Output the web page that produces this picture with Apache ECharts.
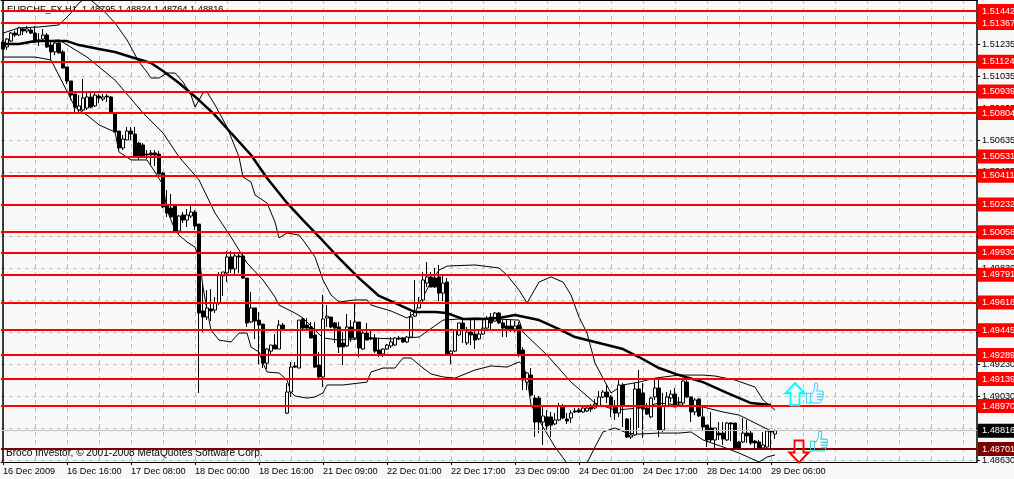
<!DOCTYPE html>
<html><head><meta charset="utf-8">
<style>html,body{margin:0;padding:0;background:#f8f8f8}#c{width:1014px;height:479px}</style>
<script src="https://cdn.jsdelivr.net/npm/echarts@6/dist/echarts.min.js"></script>
</head><body><div id="c"></div>
<script>
const titleText = "EURCHF_FX,H1  1.48795 1.48824 1.48764 1.48816";
const footerText = "Broco Investor, © 2001-2008 MetaQuotes Software Corp.";
const timeLabels = ["16 Dec 2009","16 Dec 16:00","17 Dec 08:00","18 Dec 00:00","18 Dec 16:00","21 Dec 09:00","22 Dec 01:00","22 Dec 17:00","23 Dec 09:00","24 Dec 01:00","24 Dec 17:00","28 Dec 14:00","29 Dec 06:00"];
const priceTicks = [1.51235,1.51035,1.50835,1.50635,1.50435,1.50235,1.50035,1.49830,1.49630,1.49430,1.49230,1.49030,1.48830,1.48630];
const redLevels = [1.51442,1.51367,1.51124,1.50939,1.50804,1.50531,1.50411,1.50232,1.50058,1.49930,1.49791,1.49618,1.49445,1.49289,1.49139,1.48970];
const supportLevel = 1.48701;
const bidLevel = 1.48816;
const opens = [
1.51248,1.51217,1.51254,1.51304,1.51292,1.51330,1.51317,1.51323,1.51304,1.51261,
1.51267,1.51292,1.51229,1.51186,1.51242,1.51186,1.51092,1.51004,1.50923,1.50823,
1.50823,1.50835,1.50904,1.50848,1.50910,1.50891,1.50910,1.50904,1.50798,1.50691,
1.50585,1.50635,1.50691,1.50672,1.50616,1.50604,1.50547,1.50554,1.50554,1.50547,
1.50428,1.50222,1.50209,1.50228,1.50065,1.50166,1.50134,1.50159,1.50184,1.50109,
1.49565,1.49527,1.49578,1.49571,1.49615,1.49784,1.49803,1.49903,1.49828,1.49909,
1.49909,1.49771,1.49496,1.49584,1.49508,1.49483,1.49239,1.49314,1.49352,1.49327,
1.49477,1.48926,1.49058,1.49221,1.49208,1.49515,1.49477,1.49465,1.49415,1.49227,
1.49152,1.49521,1.49527,1.49490,1.49465,1.49365,1.49346,1.49465,1.49396,1.49496,
1.49327,1.49427,1.49396,1.49396,1.49321,1.49296,1.49327,1.49346,1.49352,1.49396,
1.49396,1.49371,1.49402,1.49533,1.49584,1.49634,1.49740,1.49778,1.49771,1.49778,
1.49677,1.49746,1.49296,1.49314,1.49415,1.49490,1.49365,1.49433,1.49421,1.49390,
1.49421,1.49458,1.49527,1.49502,1.49552,1.49490,1.49471,1.49471,1.49452,1.49477,
1.49321,1.49120,1.49164,1.49020,1.49020,1.48870,1.48902,1.48902,1.48858,1.48883,
1.48970,1.48889,1.48895,1.48939,1.48945,1.48933,1.48939,1.48964,1.48958,1.48970,
1.49027,1.49058,1.49027,1.48970,1.48926,1.49102,1.48889,1.48776,1.48789,1.49077,
1.49052,1.48958,1.48902,1.49027,1.49083,1.48820,1.48970,1.49020,1.49045,1.48995,
1.48989,1.49120,1.49027,1.48933,1.49014,1.48902,1.48851,1.48833,1.48758,1.48801,
1.48801,1.48758,1.48864,1.48864,1.48745,1.48745,1.48801,1.48801,1.48751,1.48745,
1.48708,1.48714,1.48814,1.48795];
const closes = [
1.51204,1.51267,1.51304,1.51292,1.51336,1.51317,1.51330,1.51304,1.51254,1.51254,
1.51292,1.51217,1.51186,1.51242,1.51179,1.51085,1.51004,1.50916,1.50841,1.50848,
1.50898,1.50904,1.50841,1.50916,1.50898,1.50904,1.50904,1.50804,1.50685,1.50585,
1.50641,1.50691,1.50672,1.50529,1.50535,1.50529,1.50541,1.50541,1.50541,1.50422,
1.50216,1.50178,1.50153,1.50059,1.50159,1.50134,1.50166,1.50184,1.50097,1.49552,
1.49527,1.49584,1.49565,1.49615,1.49790,1.49809,1.49903,1.49828,1.49909,1.49903,
1.49771,1.49490,1.49584,1.49502,1.49477,1.49239,1.49327,1.49352,1.49327,1.49477,
1.49452,1.49058,1.49214,1.49214,1.49508,1.49458,1.49458,1.49396,1.49214,1.49152,
1.49515,1.49533,1.49465,1.49458,1.49340,1.49340,1.49465,1.49396,1.49496,1.49333,
1.49427,1.49383,1.49390,1.49314,1.49296,1.49327,1.49352,1.49371,1.49396,1.49390,
1.49371,1.49402,1.49527,1.49558,1.49615,1.49759,1.49778,1.49715,1.49715,1.49677,
1.49740,1.49296,1.49314,1.49446,1.49490,1.49446,1.49433,1.49415,1.49383,1.49421,
1.49458,1.49515,1.49490,1.49552,1.49490,1.49458,1.49446,1.49452,1.49471,1.49289,
1.49133,1.49177,1.49039,1.48870,1.48870,1.48908,1.48845,1.48851,1.48883,1.48970,
1.48895,1.48876,1.48927,1.48933,1.48933,1.48958,1.48958,1.48951,1.48983,1.49027,
1.49058,1.49027,1.48964,1.48926,1.49102,1.48970,1.48776,1.48789,1.49077,1.48958,
1.48951,1.48920,1.49020,1.49083,1.48820,1.48970,1.49027,1.49045,1.48964,1.48989,
1.49127,1.49027,1.48933,1.49008,1.48908,1.48839,1.48758,1.48758,1.48833,1.48789,
1.48764,1.48864,1.48858,1.48708,1.48708,1.48801,1.48783,1.48739,1.48739,1.48708,
1.48726,1.48814,1.48808,1.48816];
const lows = [
1.51198,1.51198,1.51248,1.51279,1.51286,1.51292,1.51304,1.51298,1.51242,1.51223,
1.51248,1.51211,1.51136,1.51167,1.51179,1.51085,1.50985,1.50885,1.50810,1.50810,
1.50816,1.50823,1.50835,1.50841,1.50866,1.50879,1.50873,1.50804,1.50685,1.50572,
1.50572,1.50635,1.50635,1.50522,1.50510,1.50522,1.50516,1.50478,1.50472,1.50422,
1.50209,1.50153,1.50153,1.50053,1.50040,1.50115,1.50090,1.50147,1.50072,1.49052,
1.49433,1.49508,1.49502,1.49552,1.49602,1.49659,1.49746,1.49803,1.49796,1.49803,
1.49765,1.49465,1.49490,1.49390,1.49233,1.49208,1.49202,1.49289,1.49327,1.49327,
1.49452,1.48920,1.49027,1.49208,1.49208,1.49452,1.49452,1.49396,1.49208,1.49145,
1.49089,1.49465,1.49458,1.49365,1.49302,1.49227,1.49340,1.49371,1.49383,1.49277,
1.49321,1.49383,1.49383,1.49302,1.49277,1.49277,1.49321,1.49333,1.49346,1.49383,
1.49365,1.49365,1.49396,1.49527,1.49584,1.49615,1.49715,1.49715,1.49709,1.49627,
1.49627,1.49289,1.49233,1.49308,1.49408,1.49365,1.49352,1.49352,1.49327,1.49383,
1.49415,1.49452,1.49452,1.49496,1.49483,1.49402,1.49402,1.49433,1.49433,1.49277,
1.49070,1.49070,1.49033,1.48776,1.48801,1.48726,1.48820,1.48776,1.48851,1.48876,
1.48889,1.48858,1.48864,1.48927,1.48927,1.48927,1.48933,1.48933,1.48951,1.48964,
1.49020,1.48989,1.48902,1.48883,1.48902,1.48839,1.48770,1.48764,1.48783,1.48833,
1.48770,1.48914,1.48895,1.49008,1.48776,1.48808,1.48964,1.48995,1.48964,1.48964,
1.48977,1.49020,1.48870,1.48914,1.48902,1.48820,1.48714,1.48745,1.48708,1.48758,
1.48726,1.48751,1.48751,1.48701,1.48701,1.48739,1.48739,1.48726,1.48695,1.48701,
1.48701,1.48708,1.48708,1.48764];
const highs = [
1.51261,1.51273,1.51311,1.51317,1.51342,1.51336,1.51348,1.51342,1.51348,1.51304,
1.51330,1.51304,1.51254,1.51261,1.51254,1.51198,1.51092,1.51004,1.50923,1.50916,
1.51017,1.50929,1.50929,1.50929,1.50923,1.50923,1.50923,1.50910,1.50804,1.50691,
1.50666,1.50716,1.50716,1.50716,1.50622,1.50616,1.50572,1.50572,1.50572,1.50566,
1.50435,1.50322,1.50297,1.50228,1.50166,1.50184,1.50203,1.50228,1.50197,1.50109,
1.49740,1.49696,1.49702,1.49652,1.49809,1.49809,1.49940,1.49940,1.49928,1.49928,
1.49928,1.49771,1.49684,1.49584,1.49558,1.49483,1.49333,1.49352,1.49421,1.49508,
1.49490,1.49114,1.49246,1.49246,1.49508,1.49521,1.49521,1.49496,1.49496,1.49308,
1.49665,1.49602,1.49527,1.49496,1.49496,1.49433,1.49546,1.49508,1.49615,1.49496,
1.49446,1.49490,1.49446,1.49421,1.49396,1.49333,1.49358,1.49402,1.49402,1.49408,
1.49402,1.49408,1.49558,1.49759,1.49652,1.49809,1.49871,1.49809,1.49834,1.49853,
1.49784,1.49771,1.49321,1.49452,1.49490,1.49508,1.49465,1.49508,1.49508,1.49446,
1.49508,1.49533,1.49552,1.49558,1.49558,1.49508,1.49508,1.49508,1.49502,1.49496,
1.49339,1.49183,1.49208,1.49039,1.49033,1.48964,1.48945,1.48933,1.48927,1.48989,
1.48983,1.48927,1.48945,1.48958,1.48958,1.48964,1.48977,1.48983,1.49014,1.49064,
1.49070,1.49102,1.49039,1.49008,1.49133,1.49114,1.48895,1.48895,1.49114,1.49196,
1.49114,1.48989,1.49027,1.49133,1.49133,1.49052,1.49058,1.49070,1.49083,1.49027,
1.49133,1.49133,1.49027,1.49020,1.49020,1.48977,1.48851,1.48933,1.48833,1.48870,
1.48870,1.48870,1.48870,1.48864,1.48751,1.48895,1.48883,1.48814,1.48758,1.48758,
1.48808,1.48820,1.48820,1.48824];
const movingAverage = [[0,1.51236],[4,1.51236],[8,1.51254],[14,1.51254],[16,1.51254],[19,1.51229],[24,1.51204],[28,1.51186],[32,1.51154],[37,1.51117],[40,1.51067],[44,1.50992],[49,1.50885],[53,1.50791],[57,1.50679],[62,1.50541],[66,1.50397],[71,1.50241],[75,1.50134],[80,1.50003],[84,1.49896],[89,1.49771],[94,1.49659],[97,1.49627],[103,1.49558],[108,1.49558],[111,1.49552],[115,1.49515],[120,1.49515],[124,1.49521],[128,1.49540],[134,1.49508],[139,1.49452],[143,1.49402],[150,1.49358],[155,1.49327],[159,1.49277],[164,1.49208],[169,1.49164],[175,1.49120],[181,1.49052],[187,1.48989],[192,1.48977]];
const upperBand = [[0,1.51304],[4,1.51336],[9,1.51342],[14,1.51355],[17,1.51430],[19,1.51492],[21,1.51530],[25,1.51448],[28,1.51367],[31,1.51261],[34,1.51123],[36,1.51060],[37,1.51023],[39,1.51023],[41,1.51054],[43,1.51054],[45,1.50998],[47,1.50916],[48,1.50841],[50,1.50929],[51,1.50935],[53,1.50854],[56,1.50716],[59,1.50529],[60,1.50403],[62,1.50372],[63,1.50291],[66,1.50241],[68,1.50122],[69,1.50022],[71,1.50053],[74,1.50040],[75,1.50009],[78,1.49903],[80,1.49759],[82,1.49665],[84,1.49621],[88,1.49634],[91,1.49634],[92,1.49602],[97,1.49565],[101,1.49521],[103,1.49552],[104,1.49615],[105,1.49652],[107,1.49746],[109,1.49821],[111,1.49846],[118,1.49853],[124,1.49834],[126,1.49790],[129,1.49696],[131,1.49615],[134,1.49746],[137,1.49778],[140,1.49746],[142,1.49665],[144,1.49527],[146,1.49427],[148,1.49239],[150,1.49145],[152,1.49052],[155,1.49102],[159,1.49120],[163,1.49145],[169,1.49164],[175,1.49164],[178,1.49158],[183,1.49133],[188,1.49089],[190,1.49008],[193,1.48945]];
const middleBand = [[0,1.51229],[8,1.51248],[14,1.51261],[21,1.51154],[28,1.51010],[35,1.50804],[40,1.50679],[44,1.50529],[49,1.50385],[53,1.50178],[57,1.50028],[61,1.49865],[65,1.49759],[68,1.49652],[69,1.49602],[73,1.49552],[75,1.49521],[78,1.49446],[80,1.49396],[84,1.49383],[92,1.49396],[98,1.49390],[104,1.49402],[110,1.49508],[118,1.49521],[129,1.49508],[130,1.49433],[136,1.49289],[142,1.49120],[148,1.48989],[153,1.48945],[159,1.48958],[164,1.48989],[169,1.48977],[175,1.48964],[180,1.48933],[184,1.48914],[188,1.48864],[193,1.48802]];
const lowerBand = [[0,1.51154],[8,1.51154],[12,1.51136],[18,1.50841],[21,1.50791],[24,1.50729],[28,1.50685],[29,1.50560],[32,1.50510],[36,1.50510],[38,1.50435],[40,1.50353],[41,1.50197],[43,1.50072],[44,1.50040],[46,1.49997],[48,1.49965],[49,1.49903],[50,1.49715],[51,1.49571],[52,1.49446],[54,1.49383],[57,1.49371],[59,1.49427],[61,1.49427],[62,1.49339],[64,1.49308],[65,1.49239],[66,1.49183],[69,1.49177],[71,1.49133],[72,1.49058],[73,1.49033],[76,1.49020],[78,1.49027],[80,1.49052],[81,1.49102],[85,1.49102],[91,1.49120],[92,1.49183],[95,1.49208],[98,1.49208],[100,1.49271],[102,1.49271],[105,1.49208],[107,1.49171],[110,1.49152],[113,1.49145],[118,1.49196],[122,1.49221],[126,1.49214],[129,1.49246],[130,1.49227],[131,1.49152],[132,1.48977],[135,1.48839],[138,1.48714],[141,1.48613],[143,1.48557],[146,1.48613],[148,1.48714],[150,1.48808],[153,1.48833],[156,1.48801],[159,1.48795],[164,1.48801],[169,1.48801],[172,1.48808],[175,1.48758],[180,1.48714],[184,1.48676],[189,1.48620],[191,1.48651],[193,1.48664]];
const signalMarks = {upArrow:[198,1.49045], thumbHigh:[203,1.49052], thumbLow:[204,1.48751], downArrow:[199,1.48686]};

const FONT = '"Liberation Sans", Arial, sans-serif';
const AXIS_SIZE = 9.2;
const SLOTS = 244, TICK_STEP = 16, LAST_TICK = 192;
const categories = Array.from({length:SLOTS},(_,i)=>String(i));
const candles = opens.map((o,i)=>[o,closes[i],lows[i],highs[i]]);
const thumbPath = 'path://M0 10L4 10L4 19L0 19ZM4 11C7 10 8 6 8 2C8 0 11 0 11 3C11 5 10 7 10 8L15 8C17 8 17 10 15.5 11C17 11.5 17 13 15 13.5C16.5 14 16 16 14.5 16C15 17 14.5 19 12 19L7 19L4 18ZM10 11L15.5 11M10 13.5L15 13.5M10 16L14.5 16';
const upPath = 'path://M9.5 0L19 10L14 10L14 22L5 22L5 10L0 10Z';
const downPath = 'path://M5 0L14 0L14 12L19 12L9.5 22L0 12L5 12Z';
const thin = (name,data)=>({name,type:'line',data,symbol:'none',z:1,silent:true,lineStyle:{color:'#000',width:1},connectNulls:true});
const lvlLabel = (bg)=>({show:true,position:'end',distance:1,color:'#fff',backgroundColor:bg,fontFamily:FONT,fontSize:AXIS_SIZE,padding:[3,3,2,4],formatter:p=>p.value.toFixed(5)});
const markData = [
  ...redLevels.map(v=>({yAxis:v,lineStyle:{color:'#ff0000',width:2,type:'solid'},label:lvlLabel('#ff0000')})),
  {yAxis:supportLevel,lineStyle:{color:'#7d0000',width:2,type:'solid'},label:lvlLabel('#7d0000')},
  {yAxis:bidLevel,lineStyle:{color:'#c0c0c0',width:1,type:'solid'},label:lvlLabel('#000000')}
];
const option = {
  animation:false,
  backgroundColor:'#f8f8f8',
  textStyle:{fontFamily:FONT},
  grid:{left:1,top:0,width:976,height:462,containLabel:false,outerBoundsMode:'none'},
  xAxis:[{
    type:'category',data:categories,boundaryGap:true,position:'bottom',
    axisLine:{show:true,lineStyle:{color:'#000',width:1}},
    axisTick:{show:true,alignWithLabel:true,length:3,interval:i=>i%TICK_STEP===0&&i<=LAST_TICK,lineStyle:{color:'#000'}},
    axisLabel:{show:true,hideOverlap:false,interval:i=>i%TICK_STEP===0&&i<=LAST_TICK,align:'left',margin:5,color:'#000',fontFamily:FONT,fontSize:AXIS_SIZE,
      formatter:(v,i)=>timeLabels[Math.round(i/TICK_STEP)]||''},
    splitLine:{show:true,alignWithLabel:true,interval:i=>i%8===0,lineStyle:{color:'#c0c0c0',type:[4,4],width:1}}
  },{
    type:'category',data:categories,position:'top',
    axisLine:{show:true,lineStyle:{color:'#000',width:1}},axisTick:{show:false},axisLabel:{show:false},splitLine:{show:false}
  }],
  yAxis:[{
    type:'value',position:'right',min:1.48620,max:1.51511,scale:true,
    axisLine:{show:true,lineStyle:{color:'#000',width:1.5}},
    axisTick:{show:true,length:3,customValues:priceTicks,lineStyle:{color:'#000'}},
    axisLabel:{show:true,margin:5,color:'#000',fontFamily:FONT,fontSize:AXIS_SIZE,customValues:priceTicks,formatter:v=>v.toFixed(5)},
    splitLine:{show:true,lineStyle:{color:'#c0c0c0',type:[4,4],width:1}}
  },{
    type:'value',position:'left',offset:-1.5,min:1.48620,max:1.51511,scale:true,
    axisLine:{show:true,lineStyle:{color:'#000',width:1.5}},axisTick:{show:false},axisLabel:{show:false},splitLine:{show:false}
  }],
  graphic:[
    {type:'text',left:7,top:5,z:1,style:{text:titleText,fill:'#000',font:'9.25px '+FONT}},
    {type:'text',left:6,top:448,z:1,style:{text:footerText,fill:'#000',font:'10.1px '+FONT}}
  ],
  series:[
    thin('Upper band',upperBand),
    thin('Middle band',middleBand),
    thin('Lower band',lowerBand),
    {name:'EURCHF',type:'candlestick',data:candles,barWidth:3,z:2,silent:true,
     itemStyle:{color:'#f8f8f8',color0:'#000',borderColor:'#000',borderColor0:'#000',borderWidth:1}},
    {name:'MA',type:'line',data:movingAverage,symbol:'none',z:3,silent:true,lineStyle:{color:'#000',width:2.5},connectNulls:true},
    {name:'Levels',type:'line',data:[],z:5,silent:true,
     markLine:{silent:true,symbol:'none',z:5,precision:5,data:markData},
     markPoint:{silent:true,z:6,label:{show:false},data:[
       {coord:signalMarks.upArrow,symbol:upPath,symbolSize:[19,22],itemStyle:{color:'rgba(0,0,0,0)',borderColor:'#00ffff',borderWidth:2}},
       {coord:signalMarks.thumbHigh,symbol:thumbPath,symbolSize:[17,20],itemStyle:{color:'rgba(0,0,0,0)',borderColor:'#33ccff',borderWidth:1}},
       {coord:signalMarks.thumbLow,symbol:thumbPath,symbolSize:[17,20],itemStyle:{color:'rgba(0,0,0,0)',borderColor:'#33cccc',borderWidth:1}},
       {coord:signalMarks.downArrow,symbol:downPath,symbolSize:[19,22],itemStyle:{color:'rgba(0,0,0,0)',borderColor:'#ff0000',borderWidth:2}}
     ]}}
  ]
};
echarts.init(document.getElementById('c'),null,{renderer:'canvas'}).setOption(option);
</script></body></html>
